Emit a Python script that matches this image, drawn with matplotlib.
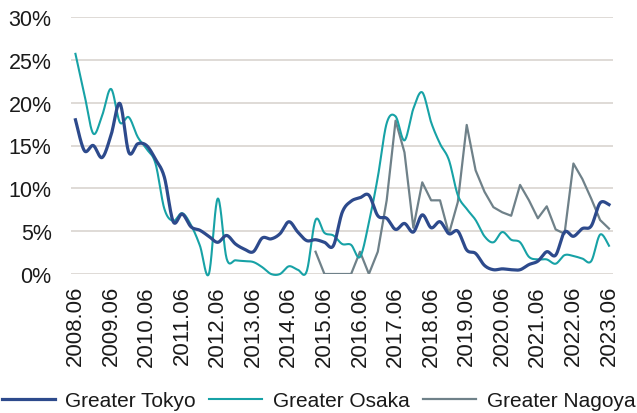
import matplotlib
matplotlib.use("Agg")
import matplotlib.pyplot as plt
import numpy as np

plt.rcParams['font.family'] = ['Liberation Sans', 'DejaVu Sans']

# quarterly vacancy rates (%), 2008.06 .. 2023.06
tokyo = [18.0, 14.4, 15.0, 13.6, 16.2, 19.9, 14.2, 15.2, 15.0, 13.4,
         11.3, 6.1, 7.0, 5.5, 5.1, 4.4, 3.7, 4.5, 3.5, 2.9,
         2.6, 4.2, 4.1, 4.7, 6.1, 4.9, 3.9, 4.0, 3.7, 3.3,
         7.2, 8.5, 8.9, 9.2, 6.8, 6.5, 5.2, 5.9, 4.9, 6.9,
         5.4, 6.1, 4.7, 5.0, 2.8, 2.4, 1.0, 0.5, 0.6, 0.5,
         0.5, 1.1, 1.5, 2.6, 2.2, 4.9, 4.4, 5.3, 5.6, 8.3,
         8.1]
osaka = [25.7, 21.0, 16.4, 18.5, 21.6, 17.7, 18.3, 16.0, 14.6, 12.9,
         7.6, 6.2, 7.1, 5.7, 3.3, 0.0, 8.8, 1.8, 1.6, 1.5,
         1.4, 0.8, 0.0, 0.0, 0.9, 0.5, 0.3, 6.3, 4.8, 4.5,
         3.5, 3.4, 2.0, 6.0, 11.3, 17.6, 18.4, 15.6, 19.3, 21.2,
         17.7, 15.2, 13.3, 9.2, 7.6, 6.3, 4.4, 3.7, 4.9, 4.0,
         3.7, 2.0, 1.7, 1.7, 1.2, 2.2, 2.1, 1.8, 1.5, 4.6,
         3.3]
nagoya_start = 27
nagoya = [2.6, 0.0, 0.0, 0.0, 0.0, 2.6, 0.0, 2.6, 8.6, 17.9,
          14.2, 5.4, 10.7, 8.6, 8.6, 4.7, 8.4, 17.4, 12.1, 9.6,
          7.8, 7.2, 6.8, 10.4, 8.6, 6.5, 7.9, 5.2, 4.7, 12.9,
          11.1, 8.8, 6.3, 5.3]
years = list(range(2008, 2024))
labels = ["%d.06" % y for y in years]
names = ["Greater Tokyo", "Greater Osaka", "Greater Nagoya"]


def smooth(x, y, n=20):
    '''Catmull-Rom style curve through the points, like a smoothed
    line in a spreadsheet chart.'''
    x = np.asarray(x, float)
    y = np.asarray(y, float)
    px = np.concatenate([[x[0]], x, [x[-1]]])
    py = np.concatenate([[y[0]], y, [y[-1]]])
    xs, ys = [], []
    t = np.linspace(0, 1, n, endpoint=False)
    for i in range(1, len(px) - 2):
        p0, p1, p2, p3 = (np.array([px[j], py[j]]) for j in range(i - 1, i + 3))
        c1 = p1 + (p2 - p0) / 6.0
        c2 = p2 - (p3 - p1) / 6.0
        b = ((1 - t) ** 3)[:, None] * p1 + (3 * (1 - t) ** 2 * t)[:, None] * c1 \
            + (3 * (1 - t) * t ** 2)[:, None] * c2 + (t ** 3)[:, None] * p2
        xs.append(b[:, 0])
        ys.append(b[:, 1])
    xs.append([x[-1]])
    ys.append([y[-1]])
    return np.concatenate(xs), np.concatenate(ys)


fig = plt.figure(figsize=(6.37, 4.14), dpi=100)
ax = fig.add_axes([71 / 637, 1 - 275 / 414, 542 / 637, 257 / 414])

q = np.arange(len(tokyo))
xt, yt = smooth(q, tokyo)
xo, yo = smooth(q, osaka)
xn = np.arange(nagoya_start, nagoya_start + len(nagoya))

ax.plot(xn, nagoya, color='#6F8189', lw=1.6, label=names[2], zorder=3)
ax.plot(xo, yo, color='#17A2A6', lw=1.5, label=names[1], zorder=4, clip_on=False)
ax.plot(xt, yt, color='#2D4A8C', lw=2.3, label=names[0], zorder=5)

ax.set_xlim(-0.5, 60.45)
ax.set_ylim(0, 30)
ax.set_yticks(range(0, 31, 5))
ax.set_yticklabels(["%d%%" % v for v in range(0, 31, 5)])
ax.set_xticks(range(0, 61, 4))
ax.set_xticklabels(labels, rotation=90)
ax.tick_params(axis='y', length=0, pad=14, labelsize=15.5, labelcolor='#1a1a1a')
ax.tick_params(axis='x', length=0, pad=8, labelsize=16, labelcolor='#1a1a1a')
ax.grid(axis='y', color='#D9D4CF', lw=1.2, zorder=0)
for s in ax.spines.values():
    s.set_visible(False)

h, l = ax.get_legend_handles_labels()
order = [2, 1, 0]
fig.legend([h[i] for i in order], [l[i] for i in order], loc='center',
           bbox_to_anchor=(0.5, 1 - 401.5 / 414), ncol=3, frameon=False,
           fontsize=15, handlelength=2.55, handletextpad=0.5,
           columnspacing=0.65, borderpad=0, labelcolor='#1a1a1a')

fig.savefig("out.png", dpi=100)
